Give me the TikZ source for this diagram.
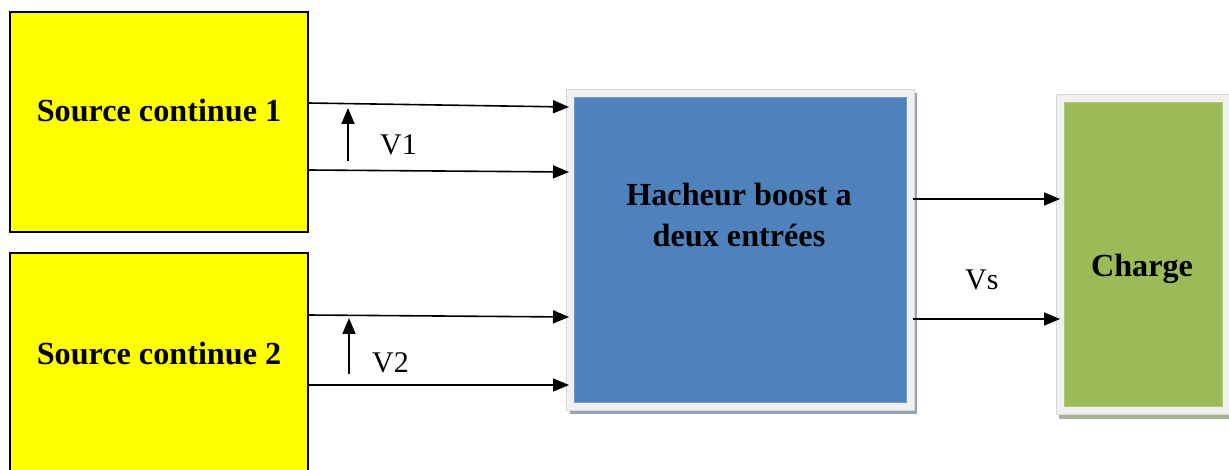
\documentclass[tikz,border=0pt]{standalone}
\usepackage{fontspec}
\setmainfont{Liberation Serif}
\usetikzlibrary{arrows.meta}
\definecolor{srcyellow}{HTML}{FFFF00}
\definecolor{convblue}{HTML}{4F81BD}
\definecolor{loadgreen}{HTML}{9BBB59}
\definecolor{framegray}{HTML}{F0F0F0}
\definecolor{frameedge}{HTML}{D6D6D6}
\definecolor{blueshadow}{HTML}{97A3B3}
\definecolor{greenshadow}{HTML}{A7B396}
\tikzset{
  srcbox/.style={draw=black, line width=2pt, fill=srcyellow},
  framebox/.style={draw=frameedge, line width=0.8pt, fill=framegray},
  shadowbox/.style={fill=#1},
  bigbold/.style={font=\fontsize{32.2}{41}\selectfont\bfseries, inner sep=0pt, anchor=base},
  volt/.style={font=\fontsize{30}{36}\selectfont, inner sep=0pt, anchor=base west},
  sig/.style={line width=1.6pt, -{Triangle[length=16pt,width=13pt]}},
}
\begin{document}
\begin{tikzpicture}[x=1pt, y=-1pt]
\useasboundingbox (0,0) rectangle (1229,470);
\clip (0,0) rectangle (1229,470);

% two DC sources
\draw[srcbox] (10,12) rectangle (308,232);
\coordinate (src1ne) at (308,12);
\draw[srcbox] (10,253) rectangle (308,490);
\coordinate (src2ne) at (308,253);
\node[bigbold] (src1txt) at (159,122) {Source continue 1};
\node[bigbold] (src2txt) at (159,364) {Source continue 2};

% two-input boost converter
\fill[shadowbox=blueshadow] (570,93) rectangle (917,414);
\node[framebox, minimum width=348pt, minimum height=321pt, inner sep=0pt, anchor=north west] (hach) at (566,89) {};
\node[fill=convblue, draw=convblue!80!white, line width=0.6pt, minimum width=332pt, minimum height=305pt, inner sep=0pt, anchor=north west] (hachin) at (574,97) {};
\node[bigbold] (hachtxt1) at (739,206) {Hacheur boost a};
\node[bigbold] (hachtxt2) at (739,247) {deux entrées};

% load
\fill[shadowbox=greenshadow] (1059,98) rectangle (1240,419);
\node[framebox, minimum width=190pt, minimum height=320pt, inner sep=0pt, anchor=north west] (load) at (1056,94) {};
\node[fill=loadgreen, draw=loadgreen!80!white, line width=0.6pt, minimum width=158pt, minimum height=304pt, inner sep=0pt, anchor=north west] (loadin) at (1064,102) {};
\node[bigbold] (loadtxt) at (1142,277) {Charge};

% input lines
\draw[sig] ([yshift=-91pt]src1ne) -- ([yshift=-18pt, xshift=3pt]hach.north west);
\draw[sig] ([yshift=-158pt]src1ne) -- ([yshift=-83pt, xshift=3pt]hach.north west);
\draw[sig] ([yshift=-62pt]src2ne) -- ([yshift=-228pt, xshift=3pt]hach.north west);
\draw[sig] ([yshift=-132pt]src2ne) -- ([yshift=-296pt, xshift=3pt]hach.north west);

% output lines
\draw[sig] ([yshift=-110pt, xshift=-2pt]hach.north east) -- ([yshift=-105pt, xshift=4pt]load.north west);
\draw[sig] ([yshift=-230pt, xshift=-2pt]hach.north east) -- ([yshift=-225pt, xshift=4pt]load.north west);

% voltage marks
\coordinate (v1a) at (348,161);
\coordinate (v1b) at (348,108);
\draw[sig] (v1a) -- (v1b);
\node[volt] (v1txt) at (380,155) {V1};
\coordinate (v2a) at (349,374);
\coordinate (v2b) at (349,318);
\draw[sig] (v2a) -- (v2b);
\node[volt] (v2txt) at (372,372) {V2};
\node[volt] (vstxt) at (965,290) {Vs};
\end{tikzpicture}
\end{document}
